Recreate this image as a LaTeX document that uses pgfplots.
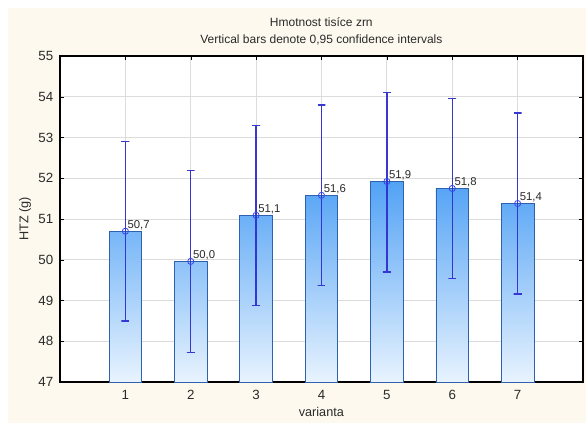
\documentclass[border=0pt]{standalone}
\usepackage{pgfplots}
\pgfplotsset{compat=1.18}
\usepackage{fontspec}
\setmainfont{Liberation Sans}
\definecolor{cream}{HTML}{FDF9EE}
\definecolor{gridc}{HTML}{DCDCDC}
\definecolor{barTop}{HTML}{52A2F5}
\definecolor{barBot}{HTML}{E8F3FE}
\definecolor{barEdge}{HTML}{2F62AE}
\definecolor{errc}{HTML}{2F2FD0}
\definecolor{meanc}{HTML}{3344EE}
\definecolor{txt}{HTML}{2A2A2A}
\begin{document}
\begin{tikzpicture}
\useasboundingbox (0,0) rectangle (439.5pt,317.25pt);
\fill[white] (0,0) rectangle (439.5pt,317.25pt);
\fill[cream] (6pt,0) rectangle (439.5pt,311.25pt);
\begin{axis}[
  at={(45pt,30.75pt)}, anchor=south west,
  scale only axis, width=392.25pt, height=244.5pt,
  xmin=0, xmax=8, ymin=47, ymax=55,
  y coord trafo/.code={\pgfmathparse{#1-47}},
  y coord inv trafo/.code={\pgfmathparse{#1+47}},
  xtick={1,...,7}, ytick={47,...,55},
  yticklabels={47,48,49,50,51,52,53,54,55},
  grid=major, major grid style={gridc, line width=0.6pt},
  axis background/.style={fill=white},
  axis line style={black, line width=0.8pt},
  tick align=inside, major tick length=3pt, tick style={black},
  /pgf/number format/assume math mode=true,
  tick label style={font=\fontsize{10}{11}\selectfont, text=txt},
  yticklabel style={xshift=-1.5pt},
  xticklabel style={yshift=-2.5pt},
  clip=false,
  errbar/.style={color=errc, draw=errc, draw opacity=0.95, line width=1pt, mark=none, line join=miter},
]
\addplot[ybar, bar width=0.5, draw=barEdge, line width=0.6pt, top color=barTop, bottom color=barBot]
  coordinates {(1,50.70) (2,49.96) (3,51.09) (4,51.58) (5,51.92) (6,51.75) (7,51.38)};
% 0.95 confidence intervals: cap, whisker, cap
\addplot[errbar] coordinates {(0.939,52.90) (1.061,52.90) (1,52.90) (1,48.50) (0.939,48.50) (1.061,48.50)};
\addplot[errbar] coordinates {(1.939,52.19) (2.061,52.19) (2,52.19) (2,47.73) (1.939,47.73) (2.061,47.73)};
\addplot[errbar] coordinates {(2.939,53.30) (3.061,53.30) (3,53.30) (3,48.88) (2.939,48.88) (3.061,48.88)};
\addplot[errbar] coordinates {(3.939,53.80) (4.061,53.80) (4,53.80) (4,49.36) (3.939,49.36) (4.061,49.36)};
\addplot[errbar] coordinates {(4.939,54.11) (5.061,54.11) (5,54.11) (5,49.70) (4.939,49.70) (5.061,49.70)};
\addplot[errbar] coordinates {(5.939,53.96) (6.061,53.96) (6,53.96) (6,49.54) (5.939,49.54) (6.061,49.54)};
\addplot[errbar] coordinates {(6.939,53.60) (7.061,53.60) (7,53.60) (7,49.16) (6.939,49.16) (7.061,49.16)};
\addplot[only marks, mark=o, mark size=2.3pt, draw=meanc, mark options={draw=meanc, fill=none, line width=0.6pt}]
  coordinates {(1,50.70) (2,49.96) (3,51.09) (4,51.58) (5,51.92) (6,51.75) (7,51.38)};
\addplot[only marks, mark=none, nodes near coords,
  nodes near coords style={anchor=south west, font=\fontsize{8.5}{9}\selectfont, text=txt, inner sep=1pt, xshift=0.5pt},
  point meta=explicit,
  /pgf/number format/.cd, fixed, fixed zerofill, precision=1, use comma]
  coordinates {(1,50.70) [50.70] (2,49.96) [49.96] (3,51.09) [51.09] (4,51.58) [51.58] (5,51.92) [51.92] (6,51.75) [51.75] (7,51.38) [51.38]};
\end{axis}
\node[font=\fontsize{9}{10}\selectfont, text=txt] at (241pt,300.75pt) {Hmotnost tisíce zrn};
\node[font=\fontsize{9}{10}\selectfont, text=txt] at (241pt,287.25pt) {Vertical bars denote 0,95 confidence intervals};
\node[font=\fontsize{9.5}{10}\selectfont, text=txt, rotate=90] at (18.75pt,153pt) {HTZ (g)};
\node[font=\fontsize{9.5}{10}\selectfont, text=txt] at (241pt,8.25pt) {varianta};
\end{tikzpicture}
\end{document}
